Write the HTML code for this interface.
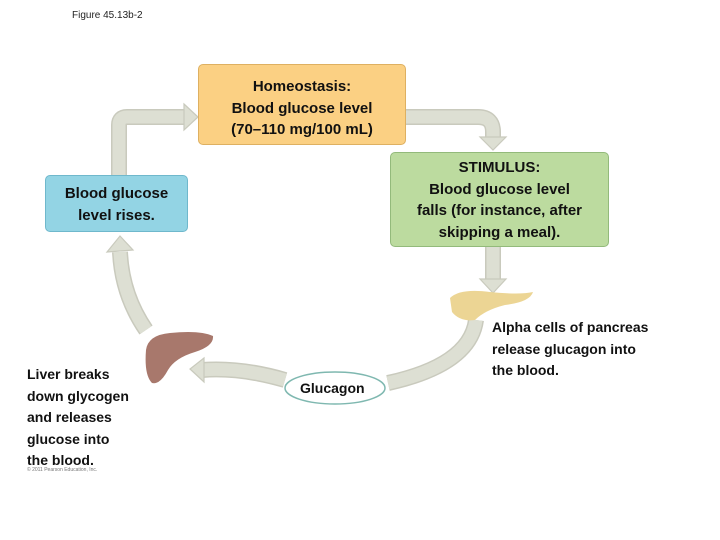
<!DOCTYPE html>
<html><head><meta charset="utf-8"><style>
body{margin:0;background:#fff;}
#c{position:relative;width:720px;height:540px;overflow:hidden;font-family:"Liberation Sans",sans-serif;}
.t{position:absolute;font-weight:bold;font-size:14px;color:#111;line-height:21.5px;}
.box{position:absolute;box-sizing:border-box;border-radius:5px;text-align:center;font-weight:bold;font-size:15px;line-height:21.5px;color:#111;}
</style></head><body><div id="c">
<svg width="720" height="540" style="position:absolute;left:0;top:0">
<g fill="none" stroke="#c9cabd" stroke-width="16">
<path d="M119 176 L119 125 Q119 117 127 117 L186 117"/>
<path d="M406 117 L478 117 Q493 117 493 132 L493 138"/>
<path d="M493 247 L493 280"/>
<path d="M146 330 Q122 295 120 252"/>
<path d="M476 320 Q470 365 388 383"/>
<path d="M285 380 Q240 367 202 370"/>
</g>
<g fill="none" stroke="#dddfd3" stroke-width="13">
<path d="M119 176 L119 125 Q119 117 127 117 L186 117"/>
<path d="M406 117 L478 117 Q493 117 493 132 L493 138"/>
<path d="M493 247 L493 280"/>
<path d="M146 330 Q122 295 120 252"/>
<path d="M476 320 Q470 365 388 383"/>
<path d="M285 380 Q240 367 202 370"/>
</g>
<g fill="#dddfd3" stroke="#c9cabd" stroke-width="1.2">
<polygon points="184,104 198,117 184,130"/>
<polygon points="480,137 506,137 493,150"/>
<polygon points="480,279 506,279 493,293"/>
<polygon points="107,252 133,250 120,236"/>
<polygon points="204,358 204,382 190,369"/>
</g>
<ellipse cx="335" cy="388" rx="50" ry="16" fill="#fff" stroke="#7fb8b0" stroke-width="1.5"/>
<path d="M146 350 Q148 335 170 333 Q200 330 213 336 Q214 346 195 352 Q175 358 168 370 Q160 385 152 383 Q144 375 146 350Z" fill="#a8786c"/>
<path d="M450 298 Q460 288 490 292 Q520 295 533 292 Q530 302 505 305 Q485 310 475 320 Q460 322 452 312Z" fill="#ecd594"/>
</svg>
<div style="position:absolute;left:72px;top:10px;font-size:10px;color:#222;">Figure 45.13b-2</div>
<div class="box" style="left:198px;top:64px;width:208px;height:81px;background:#fbd083;border:1px solid #deb061;padding-top:11px;">Homeostasis:<br>Blood glucose level<br>(70–110 mg/100 mL)</div>
<div class="box" style="left:390px;top:152px;width:219px;height:95px;background:#bcdb9f;border:1px solid #93ba7b;padding-top:4px;">STIMULUS:<br>Blood glucose level<br>falls (for instance, after<br>skipping a meal).</div>
<div class="box" style="left:45px;top:175px;width:143px;height:57px;background:#93d4e4;border:1px solid #6fb8cc;padding-top:7px;">Blood glucose<br>level rises.</div>
<div class="t" style="left:300px;top:378px;">Glucagon</div>
<div class="t" style="left:27px;top:364px;">Liver breaks<br>down glycogen<br>and releases<br>glucose into<br>the blood.</div>
<div class="t" style="left:492px;top:317px;">Alpha cells of pancreas<br>release glucagon into<br>the blood.</div>
<div style="position:absolute;left:27px;top:467px;font-size:5px;color:#777;">© 2011 Pearson Education, Inc.</div>
</div></body></html>
